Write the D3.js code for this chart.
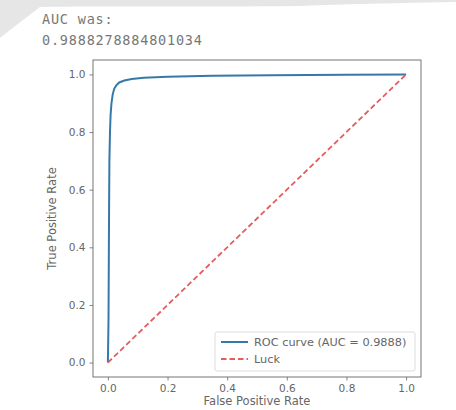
<!DOCTYPE html>
<html>
<head>
<meta charset="utf-8">
<script src="https://cdn.jsdelivr.net/npm/d3@7"></script>
<style>
  body { margin: 0; background: #fff; }
  svg { display: block; }
</style>
</head>
<body>
<svg width="456" height="410"></svg>
<script>
// printed output above the figure
const outputLines = ['AUC was:', '0.9888278884801034'];

// roc curve
const fpr = [0, 0.002, 0.003, 0.004, 0.005, 0.007, 0.009, 0.012, 0.016, 0.021, 0.028, 0.038, 0.055, 0.08, 0.12, 0.2, 0.35, 0.55, 0.8, 1.0];
const tpr = [0, 0.15, 0.35, 0.55, 0.7, 0.8, 0.86, 0.9, 0.93, 0.95, 0.962, 0.972, 0.979, 0.984, 0.988, 0.992, 0.995, 0.997, 0.999, 1.0];

// diagonal "luck" line
const luckX = [0, 1];
const luckY = [0, 1];

const ticks = [0, 0.2, 0.4, 0.6, 0.8, 1.0];
const legendLabels = ['ROC curve (AUC = 0.9888)', 'Luck'];

const box = {left: 93, right: 421, top: 60, bottom: 377};

const svg = d3.select('svg');

// grey smear across the top of the screenshot
svg.append('path')
    .attr('d', 'M0,0 L456,0 L456,2 C380,3 330,5 300,6 C200,7 100,6 40,7 L10,30 L0,38 Z')
    .attr('fill', '#e6e6e6');

svg.selectAll('text.out')
    .data(outputLines)
    .enter()
    .append('text')
    .attr('x', 42)
    .attr('y', (d, i) => 24 + i * 21)
    .attr('font-family', 'DejaVu Sans Mono, monospace')
    .attr('font-size', 13.5)
    .attr('letter-spacing', 0.8)
    .attr('fill', '#777')
    .text(d => d);

const xScale = d3.scaleLinear()
    .domain([-0.05, 1.05])
    .range([box.left, box.right]);

const yScale = d3.scaleLinear()
    .domain([-0.05, 1.05])
    .range([box.bottom, box.top]);

// x-axis
const gx = svg.append('g')
    .attr('transform', `translate(0, ${box.bottom})`)
    .call(d3.axisBottom(xScale).tickValues(ticks).tickFormat(d3.format('.1f')).tickSize(3.5).tickPadding(4));

// y-axis
const gy = svg.append('g')
    .attr('transform', `translate(${box.left}, 0)`)
    .call(d3.axisLeft(yScale).tickValues(ticks).tickFormat(d3.format('.1f')).tickSize(3.5).tickPadding(4));

[gx, gy].forEach(g => {
    g.select('.domain').remove();
    g.selectAll('line').attr('stroke', '#666').attr('stroke-width', 0.8);
    g.selectAll('text')
        .attr('font-family', 'DejaVu Sans, sans-serif')
        .attr('font-size', 10.5)
        .attr('fill', '#666');
});

// frame
svg.append('rect')
    .attr('x', box.left)
    .attr('y', box.top)
    .attr('width', box.right - box.left)
    .attr('height', box.bottom - box.top)
    .attr('fill', 'none')
    .attr('stroke', '#666')
    .attr('stroke-width', 0.9);

const line = d3.line()
    .x(d => xScale(d[0]))
    .y(d => yScale(d[1]));

// roc curve
svg.append('path')
    .datum(d3.zip(fpr, tpr))
    .attr('fill', 'none')
    .attr('stroke', '#3579a8')
    .attr('stroke-width', 2)
    .attr('d', line);

// luck line
svg.append('path')
    .datum(d3.zip(luckX, luckY))
    .attr('fill', 'none')
    .attr('stroke', '#e45c5e')
    .attr('stroke-width', 1.8)
    .attr('stroke-dasharray', '5.5,3')
    .attr('d', line);

// axis labels
svg.append('text')
    .attr('x', (box.left + box.right) / 2)
    .attr('y', 405)
    .attr('text-anchor', 'middle')
    .attr('font-family', 'DejaVu Sans, sans-serif')
    .attr('font-size', 11.5)
    .attr('fill', '#666')
    .text('False Positive Rate');

svg.append('text')
    .attr('transform', `translate(56, ${(box.top + box.bottom) / 2}) rotate(-90)`)
    .attr('text-anchor', 'middle')
    .attr('font-family', 'DejaVu Sans, sans-serif')
    .attr('font-size', 11.5)
    .attr('fill', '#666')
    .text('True Positive Rate');

// legend
const legend = svg.append('g').attr('transform', 'translate(215, 332)');
legend.append('rect')
    .attr('width', 200)
    .attr('height', 39)
    .attr('rx', 2)
    .attr('fill', '#fff')
    .attr('fill-opacity', 0.8)
    .attr('stroke', '#ddd');

const styles = [
    {stroke: '#3579a8', dash: null},
    {stroke: '#e45c5e', dash: '5.5,3'}
];

legendLabels.forEach((label, i) => {
    const y = 10 + i * 17;
    legend.append('line')
        .attr('x1', 6).attr('x2', 33)
        .attr('y1', y).attr('y2', y)
        .attr('stroke', styles[i].stroke)
        .attr('stroke-width', i === 0 ? 2 : 1.8)
        .attr('stroke-dasharray', styles[i].dash);
    legend.append('text')
        .attr('x', 39)
        .attr('y', y + 4)
        .attr('font-family', 'DejaVu Sans, sans-serif')
        .attr('font-size', 11.3)
        .attr('fill', '#666')
        .text(label);
});
</script>
</body>
</html>
